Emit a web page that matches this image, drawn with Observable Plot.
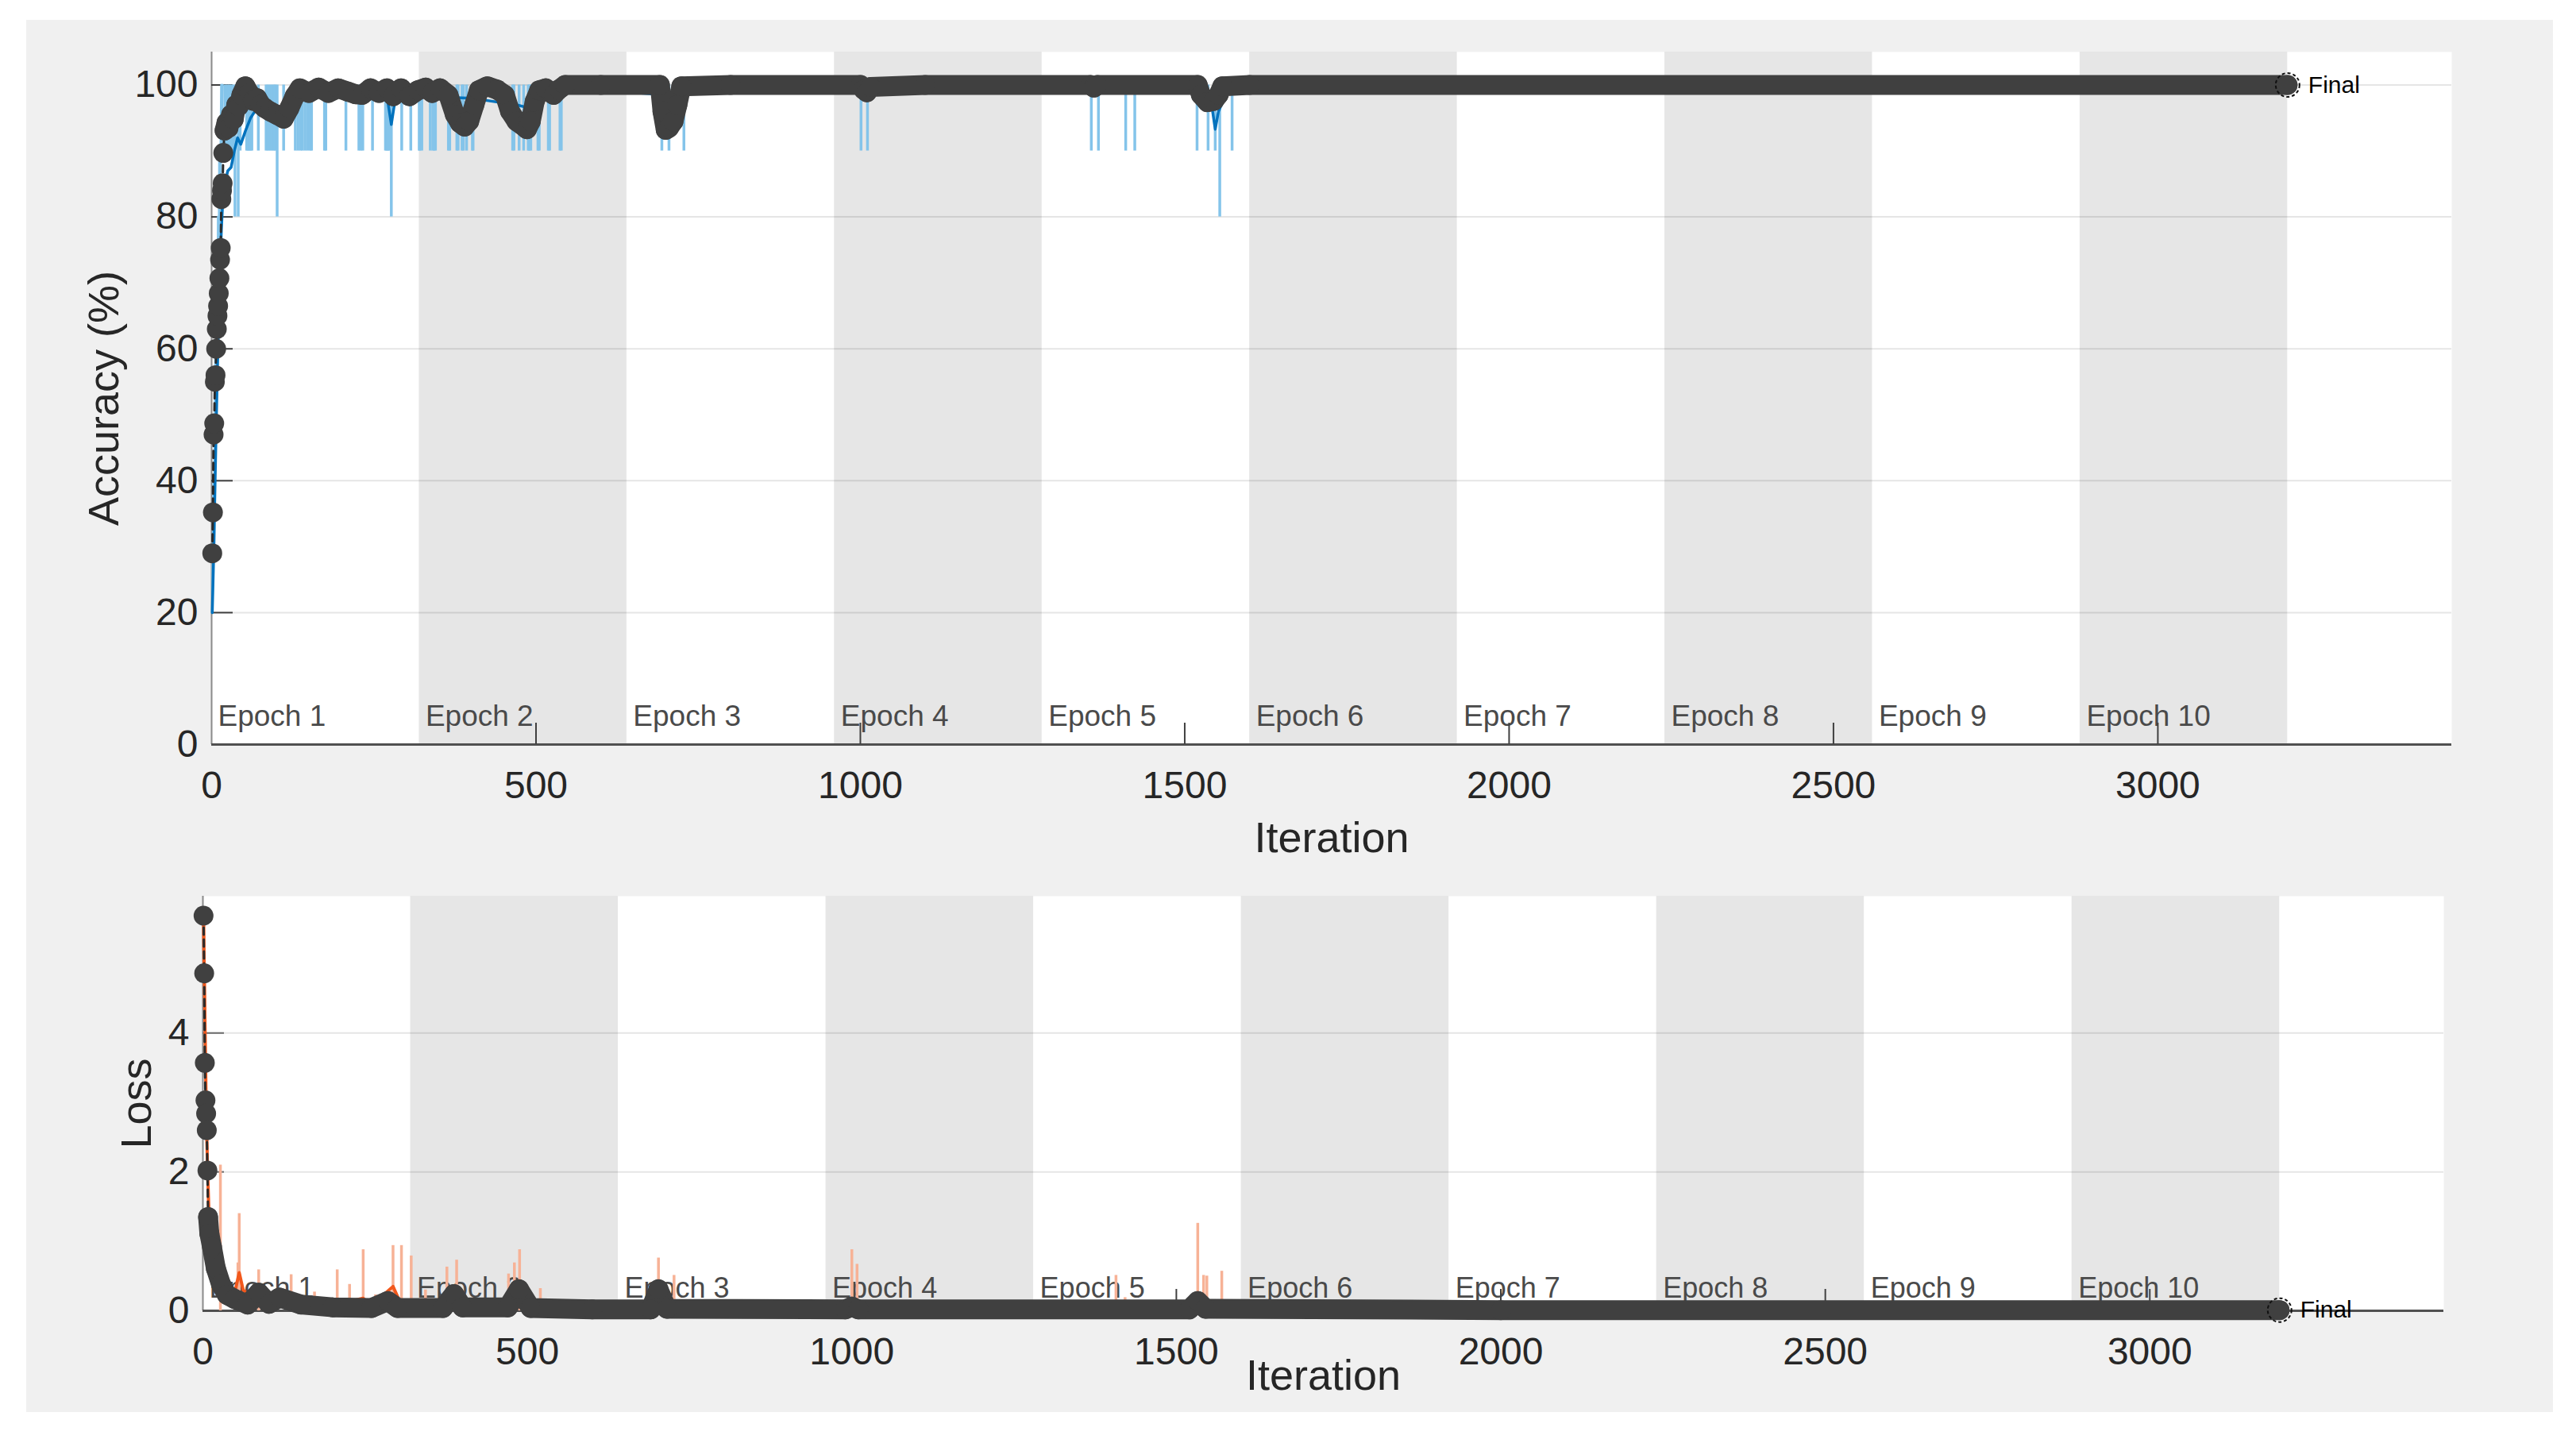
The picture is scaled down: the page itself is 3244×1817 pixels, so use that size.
<!DOCTYPE html>
<html>
<head>
<meta charset="utf-8">
<script src="https://cdn.jsdelivr.net/npm/d3@7"></script>
<script src="https://cdn.jsdelivr.net/npm/@observablehq/plot@0.6"></script>
<style>
html, body { margin: 0; padding: 0; background: #ffffff; }
#page { position: relative; width: 3244px; height: 1817px; overflow: hidden; background: #ffffff; }
#frame { position: absolute; left: 33px; top: 25px; width: 3182px; height: 1753px; background: #f0f0f0; }
#topChart { position: absolute; left: 0; top: 0; }
#bottomChart { position: absolute; left: 0; top: 1090px; }
</style>
</head>
<body>
<div id="page"><div id="frame"></div><div id="topChart"></div><div id="bottomChart"></div></div>
<script>
// ---------------- data ----------------
const epochLabels = ["Epoch 1","Epoch 2","Epoch 3","Epoch 4","Epoch 5","Epoch 6","Epoch 7","Epoch 8","Epoch 9","Epoch 10"];
const epochStart = [0, 320, 640, 960, 1280, 1600, 1920, 2240, 2560, 2880];
const epochEnd   = [320, 640, 960, 1280, 1600, 1920, 2240, 2560, 2880, 3200];
const iterTicks = [0, 500, 1000, 1500, 2000, 2500, 3000];
const accTicks = [0, 20, 40, 60, 80, 100];
const lossTicks = [0, 2, 4];

// validation accuracy [iteration, %]
const valAcc = [[1,29],[2,35.2],[3,47],[4,48.7],[5,55],[6,56],[7,60],[8,63],[9,65],[10,66.5],[11,68.4],[12,70.7],[13,73.5],[14,75.3],[15,82.7],[16,84],[17,85.1],[18,89.7],
  [20,93.1],[23,94.3],[26,93.5],[30,95.5],[34,94.8],[38,97],[42,96.8],[46,98.5],[52,99.8],[58,98.8],
  [64,97.6],[70,98],[76,97],[82,96.5],[90,96],[100,95.5],[111,94.9],[120,96.5],[128,98.3],[136,99.5],
  [150,98.8],[165,99.6],[180,98.8],[195,99.5],[210,99],[222,98.6],[232,98.5],[245,99.5],[258,98.8],[270,99.5],
  [280,98.3],[292,99.5],[305,98.3],[318,99.2],[330,99.6],[340,98.8],[352,99.5],[365,98.5],[375,95.5],[383,94.2],
  [390,93.7],[397,94.5],[405,97],[412,99.2],[425,99.8],[440,99.3],[452,98.5],[460,96],[470,94.5],[480,93.8],
  [486,93.3],[492,94.5],[498,97.5],[505,99.2],[515,99.5],[527,98.5],[535,99.3],[545,100],[600,100],[691,100],
  [695,96],[700,93.2],[705,93.5],[712,94.5],[718,97],[724,99.8],[800,100],[1000,100],[1005,99.3],[1010,98.9],
  [1016,99.7],[1100,100],[1355,100],[1360,99.6],[1365,100],[1520,100],[1525,98.5],[1535,97.4],[1545,97.6],[1552,98.5],
  [1558,99.8],[1600,100],[3200,100]];

// smoothed training accuracy [iteration, %]
const smoothAcc = [[1,20],[3,28],[5,38],[7,48],[9,57],[11,65],[13,72],[15,78],[17,82],[20,85],[25,87],[30,87.5],[35,90],[40,92],[45,91],[52,93],[60,95],[70,96.5],[85,96.5],[100,96],[120,97.5],[150,98.5],[200,99],[270,98.5],[277,94],[284,98.5],[400,98],[470,97],[490,96.5],[520,98.5],[560,99.5],[700,98.5],[730,98.8],[760,99.6],[1000,99.5],[1010,99],[1030,99.7],[1500,99.8],[1540,98],[1547,93.3],[1552,96],[1565,98.8],[1600,99.8],[3200,100]];

// raw training accuracy: first iterations, then iterations where a mini-batch dropped to 90 % or 80 %
const rawAccStart = [[1,20],[2,30],[3,40],[4,30],[5,50],[6,60],[7,50],[8,70],[9,60],[10,80],[11,70],[12,90],[13,80],[14,90],[15,100],[16,90],[17,100]];
const accDrop90 = [21,24,27,30,33,44,54,56,58,60,62,72,84,87,90,93,96,98,111,129,133,137,140,144,148,152,154,174,176,207,227,230,233,248,268,270,272,274,293,307,320,321,324,337,341,343,345,365,367,378,380,386,388,393,402,403,464,466,474,481,488,490,492,503,505,519,521,537,539,694,705,728,1001,1011,1356,1367,1409,1423,1519,1536,1547,1573];
const accDrop80 = [36,41,101,277,1554];

// validation loss [iteration, loss]
const valLoss = [[1,5.69],[2,4.86],[3,3.57],[4,3.03],[5,2.84],[6,2.6],[7,2.02],[8,1.35],[10,1.11],[14,0.92],[20,0.61],[28,0.38],[37,0.23],[49,0.17],[69,0.09],[86,0.26],[102,0.1],[118,0.19],[151,0.09],[200,0.05],[260,0.04],[285,0.14],[300,0.04],[370,0.04],[387,0.24],[400,0.05],[470,0.05],[487,0.31],[505,0.04],[600,0.02],[690,0.02],[702,0.31],[715,0.03],[990,0.02],[1000,0.06],[1010,0.02],[1520,0.02],[1533,0.14],[1545,0.03],[2000,0.01],[3200,0.01]];

// smoothed training loss
const smoothLoss = [[1,5.56],[3,4.3],[5,3.0],[7,2.1],[9,1.5],[12,1.1],[16,0.8],[20,0.6],[25,0.42],[30,0.3],[40,0.22],[50,0.3],[56,0.55],[62,0.3],[80,0.15],[100,0.12],[150,0.1],[200,0.08],[247,0.18],[260,0.08],[293,0.35],[305,0.1],[400,0.06],[690,0.05],[702,0.2],[715,0.05],[990,0.04],[1000,0.15],[1012,0.04],[1520,0.04],[1533,0.25],[1548,0.05],[2000,0.02],[3200,0.01]];

// raw training loss: first iterations, then spikes
const rawLossStart = [[1,5.5],[2,5.6],[3,4.6],[4,3.5],[5,2.9],[6,2.4],[7,2.0],[8,1.6],[9,1.2],[10,1.4],[11,1.0],[12,0.9],[14,1.1],[16,0.7],[18,0.5],[20,0.8],[22,0.4],[24,0.5],[26,0.3],[28,0.6],[30,0.2]];
const lossSpikes = [[27,2.1],[54,0.69],[56,1.4],[86,0.59],[136,0.52],[172,0.27],[207,0.59],[226,0.38],[247,0.88],[266,0.23],[277,0.23],[293,0.94],[306,0.94],[321,0.79],[343,0.3],[376,0.63],[391,0.73],[471,0.53],[480,0.69],[488,0.88],[520,0.32],[702,0.76],[726,0.51],[1000,0.88],[1008,0.67],[1407,0.51],[1421,0.19],[1533,1.26],[1542,0.51],[1547,0.5],[1570,0.57]];

const finalAcc = [[3200, 100]];
const finalLoss = [[3200, 0.01]];

// ---------------- styling ----------------
const FONT = "'Liberation Sans', Arial, Helvetica, sans-serif";
const BAND = "#e6e6e6";
const DARK = "#404040";
const epochs = epochLabels.map((name, i) => ({name, start: epochStart[i], end: epochEnd[i], shaded: i % 2 === 1}));
const X = d => d[0], Y = d => d[1];
const fmt = d => `${d}`;

function makeChart(cfg) {
  const plotW = cfg.width - cfg.marginLeft - cfg.marginRight;
  const plotH = cfg.height - cfg.marginTop - cfg.marginBottom;
  return Plot.plot({
    width: cfg.width, height: cfg.height,
    marginLeft: cfg.marginLeft, marginRight: cfg.marginRight,
    marginTop: cfg.marginTop, marginBottom: cfg.marginBottom,
    style: {background: "transparent", fontFamily: FONT, color: "#262626", overflow: "visible"},
    x: {domain: [0, 3453]},
    y: {domain: cfg.yDomain},
    marks: [
      Plot.frame({fill: "white", stroke: "none"}),
      Plot.rect(epochs.filter(d => d.shaded), {x1: "start", x2: "end", fill: BAND}),
      Plot.ruleY(cfg.yTicks.filter(d => d > 0), {stroke: "#000", strokeOpacity: 0.1, strokeWidth: 2}),
      Plot.text(epochs, {x: "start", text: "name", frameAnchor: "bottom", lineAnchor: "bottom", textAnchor: "start", dx: 8, dy: cfg.epochDy, fontSize: cfg.epochSize, fill: "#4a4a4a"}),
      Plot.ruleX([0], {stroke: "#8a8a8a", strokeWidth: 2}),
      Plot.ruleY([0], {stroke: "#505050", strokeWidth: 3}),
      Plot.ruleX(iterTicks.filter(d => d > 0), {stroke: DARK, strokeWidth: 2, insetTop: plotH - 27}),
      Plot.ruleY(cfg.yTicks.filter(d => d > 0), {stroke: cfg.yTickColor, strokeWidth: 2, insetRight: plotW - 27}),
      ...cfg.dataMarks,
      Plot.line(cfg.val, {x: X, y: Y, stroke: "#2a2a2a", strokeWidth: 3, strokeDasharray: "9,6"}),
      Plot.line(cfg.val.filter(d => d[0] >= cfg.bandFrom), {x: X, y: Y, stroke: DARK, strokeWidth: 25, strokeLinecap: "round", strokeLinejoin: "round"}),
      Plot.dot(cfg.val, {x: X, y: Y, r: 12.5, fill: DARK}),
      Plot.dot(cfg.final, {x: X, y: Y, r: 15, fill: "none", stroke: "#111", strokeWidth: 2, strokeDasharray: "4,3"}),
      Plot.text(cfg.final, {x: X, y: Y, text: () => "Final", dx: 26, textAnchor: "start", fontSize: 30, fill: "#000"}),
      Plot.axisX({ticks: iterTicks, tickFormat: fmt, tickSize: 0, tickPadding: 33, fontSize: 48, label: null}),
      Plot.axisY({ticks: cfg.yTicks, tickFormat: fmt, tickSize: 0, tickPadding: 17, fontSize: 48, label: null}),
      Plot.text([cfg.xLabel], {frameAnchor: "bottom", dy: cfg.xLabelDy, lineAnchor: "middle", textAnchor: "middle", fontSize: 54, fill: "#262626"}),
      Plot.text([cfg.yLabel], {frameAnchor: "left", dx: cfg.yLabelDx, rotate: -90, lineAnchor: "middle", textAnchor: "middle", fontSize: 54, fill: "#262626"})
    ]
  });
}

const accuracyChart = makeChart({
  width: 3244, height: 1090, marginLeft: 266, marginRight: 157, marginTop: 65, marginBottom: 153,
  yDomain: [0, 105], yTicks: accTicks, yTickColor: DARK,
  epochDy: -24, epochSize: 37,
  val: valAcc, bandFrom: 20, final: finalAcc,
  xLabel: "Iteration", xLabelDy: 118, yLabel: "Accuracy (%)", yLabelDx: -135,
  dataMarks: [
    Plot.ruleX(accDrop90.map(i => ({i, v: 90})), {x: "i", y1: 100, y2: "v", stroke: "#84c4ea", strokeWidth: 3.5}),
    Plot.ruleX(accDrop80.map(i => ({i, v: 80})), {x: "i", y1: 100, y2: "v", stroke: "#84c4ea", strokeWidth: 3.5}),
    Plot.line(rawAccStart, {x: X, y: Y, stroke: "#84c4ea", strokeWidth: 3}),
    Plot.line(smoothAcc, {x: X, y: Y, stroke: "#0072bd", strokeWidth: 3.5})
  ]
});
document.getElementById("topChart").appendChild(accuracyChart);

const lossChart = makeChart({
  width: 3244, height: 727, marginLeft: 255, marginRight: 167, marginTop: 38, marginBottom: 167,
  yDomain: [0, 5.97], yTicks: lossTicks, yTickColor: "#6a6a6a",
  epochDy: -17, epochSize: 36,
  val: valLoss, bandFrom: 8, final: finalLoss,
  xLabel: "Iteration", xLabelDy: 82, yLabel: "Loss", yLabelDx: -83,
  dataMarks: [
    Plot.ruleX(lossSpikes, {x: X, y1: 0, y2: Y, stroke: "#f7b296", strokeWidth: 3.5}),
    Plot.line(rawLossStart, {x: X, y: Y, stroke: "#f7b296", strokeWidth: 3}),
    Plot.line(smoothLoss, {x: X, y: Y, stroke: "#f2581c", strokeWidth: 4})
  ]
});
document.getElementById("bottomChart").appendChild(lossChart);
</script>
</body>
</html>
